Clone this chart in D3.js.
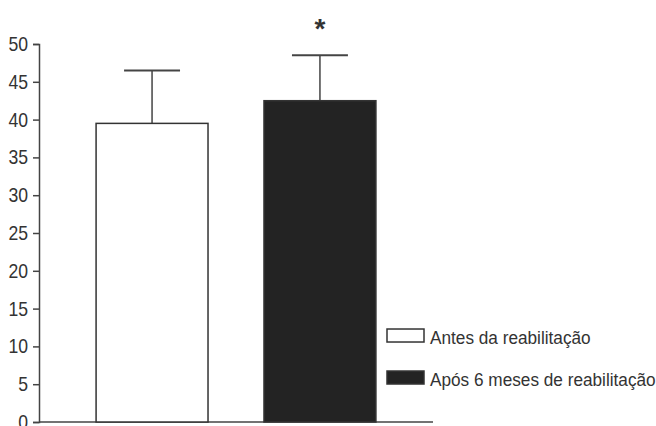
<!DOCTYPE html>
<html>
<head>
<meta charset="utf-8">
<script src="https://cdn.jsdelivr.net/npm/d3@7"></script>
<style>
  body { margin: 0; background: #fff; }
  text { font-family: "Liberation Sans", Arial, sans-serif; fill: #333; }
</style>
</head>
<body>
<div id="chart"></div>
<script>
var groups = ["Antes da reabilitação", "Após 6 meses de reabilitação"];
var means = [39.5, 42.5];
var errors = [7.0, 6.0];
var fills = ["#ffffff", "#232323"];
var yTicks = [0, 5, 10, 15, 20, 25, 30, 35, 40, 45, 50];
var significant = [false, true];

var svgWidth = 656, svgHeight = 426;
var margin = { top: 44, right: 223, bottom: 4, left: 39 };
var width = svgWidth - margin.left - margin.right;
var height = svgHeight - margin.top - margin.bottom;
var narrow = 0.88;   // squeeze text horizontally, the original font is a narrow face

var svg = d3.select("#chart").append("svg")
    .attr("width", svgWidth)
    .attr("height", svgHeight)
    .append("g")
    .attr("transform", "translate(" + margin.left + "," + margin.top + ")");

var y = d3.scaleLinear()
    .domain([0, 50])
    .range([height, 0]);

var x = d3.scaleBand()
    .domain(groups)
    .range([0, width])
    .paddingInner(1 / 3)
    .paddingOuter(0.34);

// y axis
var yAxis = d3.axisLeft(y)
    .tickValues(yTicks)
    .tickSize(6)
    .tickFormat(d3.format("d"));

var yAxisGroup = svg.append("g")
    .attr("class", "y-axis")
    .call(yAxis);
yAxisGroup.select(".domain").attr("stroke", "#444").attr("stroke-width", 1.5);
yAxisGroup.selectAll(".tick line").attr("stroke", "#444").attr("stroke-width", 1.5);
yAxisGroup.selectAll(".tick text")
    .attr("font-size", "20px")
    .attr("fill", "#333")
    .attr("font-family", "Liberation Sans, Arial, sans-serif")
    .attr("x", -11 / narrow)
    .attr("transform", "scale(" + narrow + ",1)");

// baseline
svg.append("line")
    .attr("x1", 0)
    .attr("x2", width)
    .attr("y1", y(0))
    .attr("y2", y(0))
    .attr("stroke", "#444")
    .attr("stroke-width", 1.5);

// error bars
var errGroup = svg.append("g");
groups.forEach(function(g, i) {
    var cx = x(g) + x.bandwidth() / 2;
    errGroup.append("line")
        .attr("x1", cx).attr("x2", cx)
        .attr("y1", y(means[i])).attr("y2", y(means[i] + errors[i]))
        .attr("stroke", "#444").attr("stroke-width", 1.5);
    errGroup.append("line")
        .attr("x1", cx - x.bandwidth() / 4).attr("x2", cx + x.bandwidth() / 4)
        .attr("y1", y(means[i] + errors[i])).attr("y2", y(means[i] + errors[i]))
        .attr("stroke", "#444").attr("stroke-width", 2);
    if (significant[i]) {
        errGroup.append("text")
            .attr("x", cx)
            .attr("y", y(means[i] + errors[i]) - 17)
            .attr("text-anchor", "middle")
            .attr("font-size", "28px")
            .attr("font-weight", "bold")
            .attr("fill", "#222")
            .attr("font-family", "DejaVu Sans, sans-serif")
            .text("*");
    }
});

// bars
svg.selectAll("rect.bar")
    .data(groups)
    .enter()
    .append("rect")
    .attr("class", "bar")
    .attr("x", function(d) { return x(d); })
    .attr("width", x.bandwidth())
    .attr("y", function(d, i) { return y(means[i]); })
    .attr("height", function(d, i) { return height - y(means[i]); })
    .attr("fill", function(d, i) { return fills[i]; })
    .attr("stroke", "#333")
    .attr("stroke-width", 1.5);

// legend
var legend = svg.append("g")
    .attr("transform", "translate(" + (width - 46) + "," + y(12.3) + ")");
groups.forEach(function(g, i) {
    var row = legend.append("g").attr("transform", "translate(0," + (i * 42) + ")");
    row.append("rect")
        .attr("width", 37).attr("height", 13)
        .attr("fill", fills[i])
        .attr("stroke", "#333").attr("stroke-width", 1.5);
    row.append("text")
        .attr("transform", "translate(43,14.5) scale(0.93,1)")
        .attr("font-size", "18.5px")
        .text(g);
});
</script>
</body>
</html>
